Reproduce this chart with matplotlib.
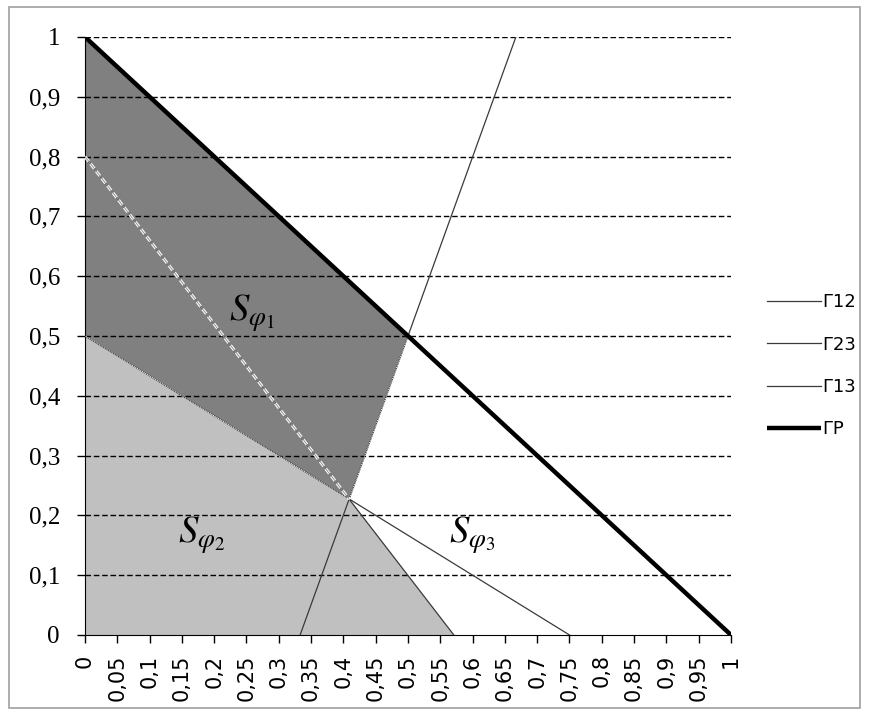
import numpy as np
import matplotlib.pyplot as plt
from matplotlib.patches import Polygon, Rectangle

# lines (end points)
gr_x = [0, 1]
gr_y = [1, 0]
g12_x = [0.333, 0.667]
g12_y = [0, 1]
g23_x = [0, 0.571]
g23_y = [0.8, 0]
g13_x = [0, 0.75]
g13_y = [0.5, 0]

# crossing point of Г12, Г13, Г23
cross_x = 0.409
cross_y = 0.227

# shaded regions
s1_x = [0, 0.5, cross_x, 0]
s1_y = [1, 0.5, cross_y, 0.5]
s2_x = [0, cross_x, 0.571, 0]
s2_y = [0.5, cross_y, 0, 0]

region_labels = [r'$S_{\varphi_1}$', r'$S_{\varphi_2}$', r'$S_{\varphi_3}$']
region_lx = [0.258, 0.18, 0.60]
region_ly = [0.538, 0.166, 0.166]

xticks = np.round(np.arange(0, 1.0001, 0.05), 2)
yticks = np.round(np.arange(0, 1.0001, 0.1), 1)
def comma(v):
    s = ('%g' % v).replace('.', ',')
    return s

plt.rcParams['mathtext.fontset'] = 'stix'

fig = plt.figure(figsize=(8.69, 7.15), dpi=100)
ax = fig.add_axes([0.0978, 0.1119, 0.7434, 0.8364])

ax.add_patch(Polygon(list(zip(s2_x, s2_y)), closed=True, facecolor='#c0c0c0', edgecolor='none', zorder=1))
ax.add_patch(Polygon(list(zip(s1_x, s1_y)), closed=True, facecolor='#808080', edgecolor='none', zorder=1))

for y in yticks[1:]:
    ax.axhline(y, color='black', lw=1.0, ls=(0, (4, 2)), zorder=2)

line_col = '#3a3a3a'
h12, = ax.plot(g12_x, g12_y, color=line_col, lw=0.9, zorder=3, label='Г12')
h23, = ax.plot(g23_x, g23_y, color=line_col, lw=0.9, zorder=3, label='Г23')
h13, = ax.plot(g13_x, g13_y, color=line_col, lw=0.9, zorder=3, label='Г13')

# white dotted borders of the dark region
ax.plot([g23_x[0], cross_x], [g23_y[0], cross_y], color='white', lw=2.2, ls=(0, (2, 1)), zorder=3)
ax.plot([g23_x[0], cross_x], [g23_y[0], cross_y], color='#909090', lw=0.7, zorder=3)
ax.plot([s1_x[1], s1_x[2], s1_x[3]], [s1_y[1], s1_y[2], s1_y[3]], color='white', lw=0.7, ls=(0, (1, 1)), zorder=3)

hgr, = ax.plot(gr_x, gr_y, color='black', lw=3.2, zorder=4, solid_capstyle='butt', label='ГР')

for t, x, y in zip(region_labels, region_lx, region_ly):
    ax.text(x, y, t, fontsize=28, ha='center', va='center', zorder=5)

ax.set_xlim(0, 1)
ax.set_ylim(0, 1)
ax.set_xticks(xticks)
ax.set_xticklabels([comma(v) for v in xticks], rotation=90, fontsize=15, family='DejaVu Sans')
ax.set_yticks(yticks)
ax.set_yticklabels([comma(v) for v in yticks], fontsize=18, family='Liberation Serif')
ax.tick_params(axis='x', length=6, width=1, pad=8)
ax.tick_params(axis='y', length=6, width=1, pad=12)
ax.spines['top'].set_visible(False)
ax.spines['right'].set_visible(False)

ax.legend(handles=[h12, h23, h13, hgr], loc='center left', bbox_to_anchor=(1.03, 0.45),
          frameon=False, fontsize=13, handlelength=3.0, handletextpad=0.1, labelspacing=1.35)

fig.add_artist(Rectangle((0.01, 0.01), 0.98, 0.98, transform=fig.transFigure,
                         fill=False, edgecolor='#a0a0a0', lw=1.2))

plt.savefig('out.png')
